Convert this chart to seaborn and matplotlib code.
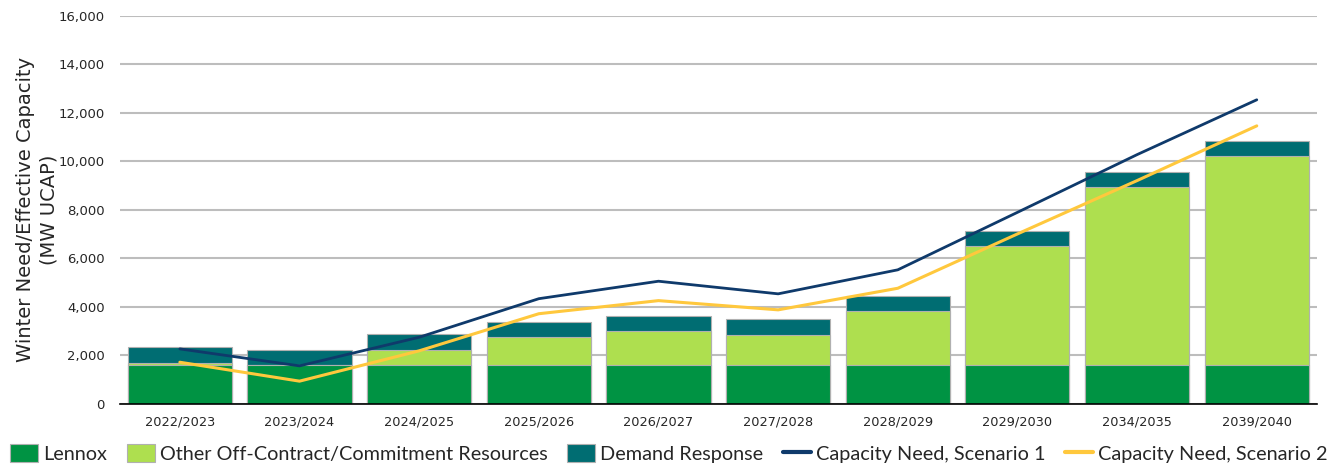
import matplotlib
matplotlib.use("Agg")
import matplotlib.pyplot as plt
import numpy as np
import pandas as pd
import seaborn as sns
from matplotlib.ticker import FuncFormatter

# Data (MW UCAP)
years = ["2022/2023", "2023/2024", "2024/2025", "2025/2026", "2026/2027",
         "2027/2028", "2028/2029", "2029/2030", "2034/2035", "2039/2040"]
lennox = [1590, 1590, 1590, 1590, 1590, 1590, 1590, 1590, 1590, 1590]
other_resources = [90, 0, 650, 1175, 1420, 1270, 2260, 4915, 7350, 8640]
demand_response = [660, 650, 645, 620, 620, 645, 605, 630, 640, 605]
need_scenario1 = [2270, 1570, 2750, 4340, 5060, 4540, 5530, 7900, 10280, 12540]
need_scenario2 = [1720, 940, 2190, 3720, 4260, 3880, 4770, 7010, 9210, 11465]

c_lennox = "#009343"
c_other = "#AEDF4F"
c_dr = "#006D72"
c_s1 = "#0F3A6B"
c_s2 = "#FFC83D"

df = pd.DataFrame({"year": years, "lennox": lennox,
                   "other": other_resources, "dr": demand_response})
df["mid"] = df["lennox"] + df["other"]
df["total"] = df["mid"] + df["dr"]

sns.set_style("white")
plt.rcParams["font.family"] = ["DejaVu Sans"]

fig, ax = plt.subplots(figsize=(13.38, 4.67), dpi=100)
fig.subplots_adjust(left=0.0897, right=0.984, top=0.966, bottom=0.135)

# Stacked bars drawn as overlapping cumulative totals
bar_kw = dict(width=0.87, edgecolor="#B0B0B0", linewidth=0.8, ax=ax, zorder=2)
sns.barplot(data=df, x="year", y="total", color=c_dr, saturation=1,
            label="Demand Response", **bar_kw)
sns.barplot(data=df, x="year", y="mid", color=c_other, saturation=1,
            label="Other Off-Contract/Commitment Resources", **bar_kw)
sns.barplot(data=df, x="year", y="lennox", color=c_lennox, saturation=1,
            label="Lennox", **bar_kw)

xpos = np.arange(len(years))
sns.lineplot(x=xpos, y=need_scenario1, color=c_s1, linewidth=2.0,
             label="Capacity Need, Scenario 1", ax=ax, zorder=4)
sns.lineplot(x=xpos, y=need_scenario2, color=c_s2, linewidth=2.2,
             label="Capacity Need, Scenario 2", ax=ax, zorder=4)

ax.set_ylim(0, 16000)
ax.set_xlim(-0.5, len(years) - 0.5)
ax.set_yticks(range(0, 16001, 2000))
ax.yaxis.set_major_formatter(FuncFormatter(lambda v, p: f"{int(v):,}"))
ax.grid(axis="y", color="#BDBDBD", linewidth=1.5, zorder=0)
ax.set_axisbelow(True)

for s in ["top", "right", "left"]:
    ax.spines[s].set_visible(False)
ax.spines["bottom"].set_color("black")
ax.spines["bottom"].set_linewidth(1.2)

ax.tick_params(axis="y", length=5, color="#BDBDBD", width=1.2,
               labelsize=9.5, pad=6)
ax.tick_params(axis="x", length=0, labelsize=9.3, pad=8)
ax.set_xlabel(None)
ax.set_ylabel("Winter Need/Effective Capacity\n(MW UCAP)", fontsize=14,
              linespacing=1.3, labelpad=0)

# Legend in the reference order, across the bottom
handles, labels = ax.get_legend_handles_labels()
order = ["Lennox", "Other Off-Contract/Commitment Resources", "Demand Response",
         "Capacity Need, Scenario 1", "Capacity Need, Scenario 2"]
hmap = dict(zip(labels, handles))
ax.get_legend().remove()
leg = fig.legend([hmap[k] for k in order], order, loc="lower center",
                 bbox_to_anchor=(0.5, -0.03), ncol=5, frameon=False,
                 handlelength=1.4, handleheight=1.0,
                 handletextpad=0.25, columnspacing=1.0,
                 prop={"family": "Lato", "size": 14.3})
for line in leg.get_lines():
    line.set_linewidth(3)

plt.savefig("out.png", dpi=100)
plt.close()
